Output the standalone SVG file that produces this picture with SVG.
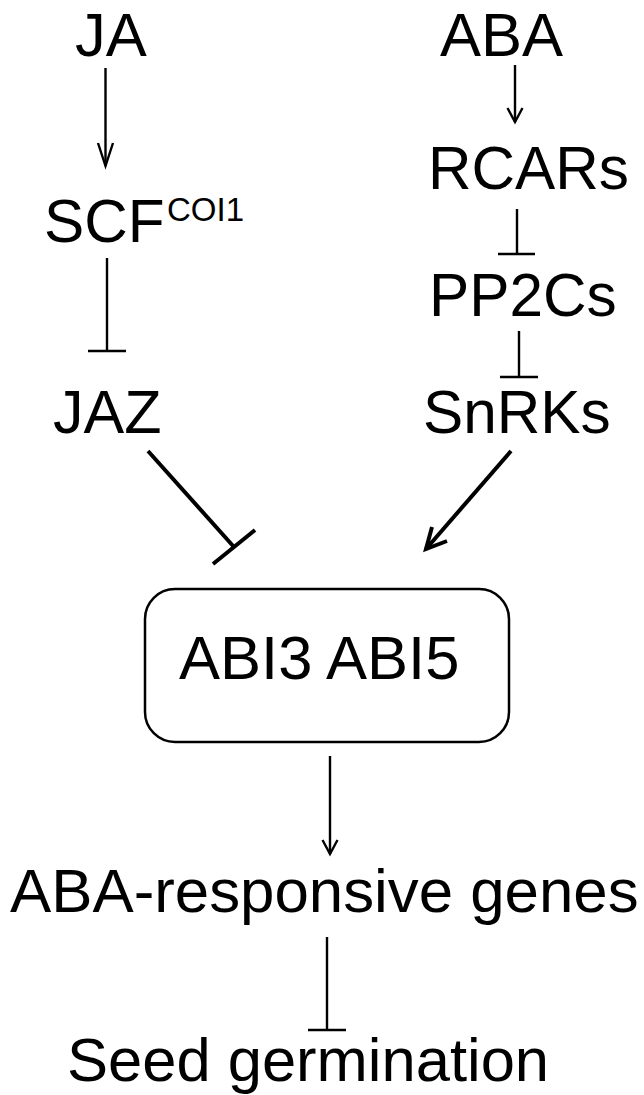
<svg xmlns="http://www.w3.org/2000/svg" width="644" height="1095" viewBox="0 0 644 1095">
<style>
.t{font-family:"Liberation Sans",Arial,sans-serif;font-size:61px;fill:#000}
.r{font-size:60.3px}
.b{font-size:61.8px}
.s{font-family:"Liberation Sans",Arial,sans-serif;font-size:33px;fill:#000}
.ln{stroke:#000;fill:none;stroke-width:2.4;stroke-linecap:butt}
.thick{stroke:#000;fill:none;stroke-width:4}
.box{fill:#fff;stroke:#000;stroke-width:2.5}
</style>
<rect x="0" y="0" width="644" height="1095" fill="#fff"/>
<g id="JA"><text class="t" x="75" y="56" style="font-size:61.5px">JA</text></g>
<g id="ABA"><text class="t" x="440" y="56" style="font-size:61.5px">ABA</text></g>
<g id="SCF"><text class="t r" x="44" y="242">SCF</text><text class="s" x="167" y="221">COI1</text></g>
<g id="RCARs"><text class="t r" x="428" y="189">RCARs</text></g>
<g id="PP2Cs"><text class="t r" x="429" y="316">PP2Cs</text></g>
<g id="JAZ"><text class="t" x="53" y="433">JAZ</text></g>
<g id="SnRKs"><text class="t r" x="423" y="433">SnRKs</text></g>
<g id="ABI"><rect class="box" x="145" y="589" width="364" height="153" rx="30" ry="30"/><text class="t" x="179" y="679" style="font-size:61.5px">ABI3 ABI5</text></g>
<g id="genes"><text class="t b" x="10" y="912">ABA-responsive genes</text></g>
<g id="germination"><text class="t" x="67" y="1081" style="font-size:61.5px">Seed germination</text></g>
<g id="connectors">
<line class="ln" x1="105.5" y1="68" x2="105.5" y2="166"/>
<polyline class="ln" points="98,143 105.5,166 113,143"/>
<line class="ln" x1="515" y1="65" x2="515" y2="122"/>
<polyline class="ln" points="507.5,108 515,122 522.5,108"/>
<line class="ln" x1="107" y1="258" x2="107" y2="351"/>
<line class="ln" x1="88" y1="351" x2="126" y2="351" stroke-width="3"/>
<line class="ln" x1="517" y1="209" x2="517" y2="254"/>
<line class="ln" x1="498" y1="254" x2="535" y2="254" stroke-width="1.8"/>
<line class="ln" x1="519" y1="331" x2="519" y2="377"/>
<line class="ln" x1="500" y1="377" x2="538" y2="377" stroke-width="1.8"/>
<line class="thick" x1="148" y1="451" x2="234" y2="547" stroke-width="3.5"/>
<line class="thick" x1="213" y1="564" x2="255" y2="530" stroke-width="4.5"/>
<line class="thick" x1="511" y1="451" x2="426" y2="549" stroke-width="3.5"/>
<polyline class="thick" points="432,527 426,549 447,541" stroke-width="3.5"/>
<line class="ln" x1="330" y1="756" x2="330" y2="854"/>
<polyline class="ln" points="322.5,840 330,854 337.5,840"/>
<line class="ln" x1="327" y1="937" x2="327" y2="1030"/>
<line class="ln" x1="308" y1="1030" x2="346" y2="1030" stroke-width="3"/>
</g>
</svg>
